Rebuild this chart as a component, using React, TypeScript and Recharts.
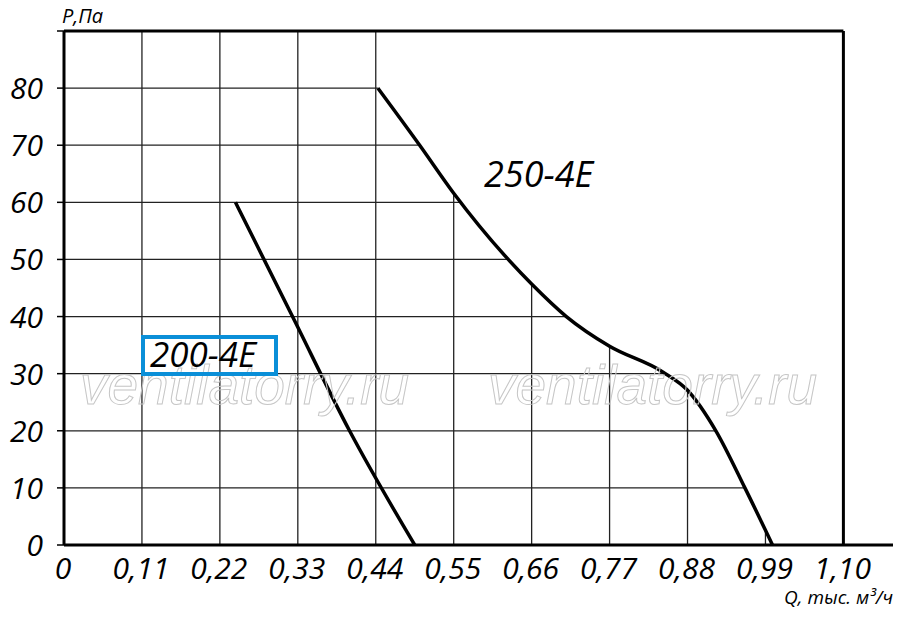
import {
  ComposedChart,
  Line,
  XAxis,
  YAxis,
  ReferenceLine
} from 'recharts'

// values
const q200 = [0.242, 0.3225, 0.403, 0.495]
const p200 = [60, 40, 20, 0]

const q250 = [0.443, 0.502, 0.55, 0.627, 0.66, 0.709, 0.77, 0.845, 0.88, 0.92, 0.961, 1.0]
const p250 = [80, 70, 61.6, 50, 45.7, 40, 34.8, 30.3, 27.1, 20, 10, 0]

const xTicks = [0, 0.11, 0.22, 0.33, 0.44, 0.55, 0.66, 0.77, 0.88, 0.99, 1.1]
const yTicks = [0, 10, 20, 30, 40, 50, 60, 70, 80, 90]
const qMax = 1.1
const pMax = 90

const data250 = q250.map((q, i) => ({ q, p: p250[i] }))
const data200 = q200.map((q, i) => ({ q, p: p200[i] }))

// the grid only shows below the 250-4E curve: find where each grid line meets it
function curveQ(p: number) {
  if (p >= p250[0]) return q250[0]
  for (let i = 0; i < p250.length - 1; i++) {
    if (p <= p250[i] && p >= p250[i + 1]) {
      const t = (p250[i] - p) / (p250[i] - p250[i + 1])
      return q250[i] + t * (q250[i + 1] - q250[i])
    }
  }
  return q250[q250.length - 1]
}
function curveP(q: number) {
  if (q <= q250[0]) return pMax
  for (let i = 0; i < q250.length - 1; i++) {
    if (q >= q250[i] && q <= q250[i + 1]) {
      const t = (q - q250[i]) / (q250[i + 1] - q250[i])
      return p250[i] + t * (p250[i + 1] - p250[i])
    }
  }
  return 0
}
const hGrid = yTicks.filter((p) => p > 0 && p < pMax).map((p) => [{ x: 0, y: p }, { x: curveQ(p), y: p }])
const vGrid = xTicks.filter((q) => q > 0 && q < qMax).map((q) => [{ x: q, y: 0 }, { x: q, y: curveP(q) }])

const font = '"Open Sans", sans-serif'

const fmtX = (v: number) => (v === 0 ? '0' : v.toFixed(2).replace('.', ','))

function XTick(props: any) {
  const { x, payload } = props
  return (
    <text x={x - 1} y={579} textAnchor="middle" fontFamily={font} fontStyle="italic" fontSize={30} fill="#000">
      {fmtX(payload.value)}
    </text>
  )
}

function YTick(props: any) {
  const { y, payload } = props
  if (payload.value === pMax) return null
  return (
    <text x={43} y={y + 11} textAnchor="end" fontFamily={font} fontStyle="italic" fontSize={30} fill="#000">
      {payload.value}
    </text>
  )
}

const txt = { position: 'absolute' as const, fontFamily: font, fontStyle: 'italic', color: '#000', whiteSpace: 'nowrap' as const, lineHeight: 1 }
const mark = { fontFamily: '"Liberation Sans", Arial, sans-serif', fontStyle: 'italic', fontSize: 55, fill: 'none', stroke: '#c6c6c6', strokeWidth: 1 }

export default function App() {
  return (
    <div style={{ position: 'absolute', left: 0, top: 0, width: 900, height: 619, background: '#fff' }}>
      <ComposedChart
        width={900}
        height={619}
        data={data250}
        margin={{ top: 31, right: 7, bottom: 0, left: 0 }}
      >
        <XAxis
          dataKey="q"
          type="number"
          domain={[0, 1.17]}
          ticks={xTicks}
          tick={<XTick />}
          tickLine={false}
          axisLine={{ stroke: '#000', strokeWidth: 3 }}
          height={74}
          interval={0}
        />
        <YAxis
          type="number"
          domain={[0, pMax]}
          ticks={yTicks}
          tick={<YTick />}
          tickSize={7}
          tickLine={{ stroke: '#000', strokeWidth: 1.5 }}
          axisLine={{ stroke: '#000', strokeWidth: 3 }}
          width={64}
          interval={0}
        />
        {hGrid.map((seg, i) => (
          <ReferenceLine key={'h' + i} segment={seg} stroke="#222" strokeWidth={1.3} />
        ))}
        {vGrid.map((seg, i) => (
          <ReferenceLine key={'v' + i} segment={seg} stroke="#222" strokeWidth={1.3} />
        ))}
        <ReferenceLine segment={[{ x: 0, y: pMax }, { x: qMax, y: pMax }]} stroke="#000" strokeWidth={3} />
        <ReferenceLine segment={[{ x: qMax, y: 0 }, { x: qMax, y: pMax }]} stroke="#000" strokeWidth={3} />
        <Line
          dataKey="p"
          type="monotone"
          stroke="#000"
          strokeWidth={3.5}
          dot={false}
          isAnimationActive={false}
        />
        <Line
          data={data200}
          dataKey="p"
          type="monotone"
          stroke="#000"
          strokeWidth={3.5}
          dot={false}
          isAnimationActive={false}
        />
      </ComposedChart>

      <svg width={900} height={619} style={{ position: 'absolute', left: 0, top: 0, pointerEvents: 'none' }}>
        <text x={80} y={404} {...mark}>ventilatorry.ru</text>
        <text x={488} y={404} {...mark}>ventilatorry.ru</text>
        <rect x={143} y={337} width={133} height={37} fill="none" stroke="#0a8fd8" strokeWidth={4} />
      </svg>

      <div style={{ ...txt, left: 62, top: 6, fontSize: 20 }}>Р,Па</div>
      <div style={{ ...txt, right: 7, top: 588, fontSize: 19 }}>Q, тыс. м³/ч</div>
      <div style={{ ...txt, left: 484, top: 156, fontSize: 36 }}>250-4E</div>
      <div style={{ ...txt, left: 150, top: 336, fontSize: 35 }}>200-4E</div>
    </div>
  )
}
